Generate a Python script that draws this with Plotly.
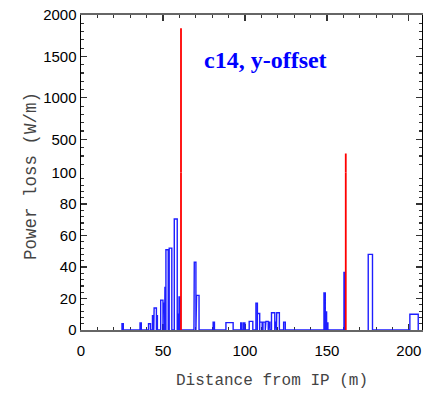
import plotly.graph_objects as go

# ---- data ----
# blue power-loss bins: start (m), end (m), power (W/m)
bin_start = [25.0, 36.0, 41.2, 43.6, 44.6, 46.0, 48.6, 50.2, 51.2, 51.8, 53.8, 56.9,
             59.2, 59.8, 68.9, 69.1, 70.5, 80.6, 88.4, 97.4, 99.2, 102.6, 106.7, 107.6,
             109.0, 111.0, 112.8, 114.6, 116.2, 118.6, 119.4, 123.6, 148.2, 149.0, 149.8,
             160.4]
bin_end = [25.8, 36.8, 42.4, 44.4, 46.0, 46.6, 50.0, 51.0, 51.8, 53.2, 55.4, 58.7,
           59.8, 60.4, 69.3, 70.1, 72.0, 81.4, 92.8, 98.2, 100.0, 104.8, 107.6, 109.0,
           110.5, 112.4, 114.2, 115.2, 118.2, 119.2, 121.0, 124.6, 149.0, 149.8, 150.6,
           161.2]
bin_power = [4, 4.5, 4, 9, 14, 9, 19, 17, 27, 51, 52, 70.5,
             10, 21, 27, 43, 22, 5, 4.7, 4.5, 4.5, 5.5, 17, 10.5,
             5, 5, 5.5, 5, 11, 5, 11, 5, 23.5, 11.5, 4.5,
             36.5]
# second group of bins
bin2_start = [175.2, 200.6]
bin2_end = [177.8, 205.7]
bin2_power = [48, 10]

# red spikes
red_x = [61.0, 161.5]
red_peak = [1840, 330]

x_ticks = [0, 50, 100, 150, 200]
y_low_ticks = [0, 20, 40, 60, 80, 100]
y_high_ticks = [500, 1000, 1500, 2000]


def outline(starts, ends, vals):
    xs, ys = [], []
    for s, e, v in zip(starts, ends, vals):
        xs += [s, s, e, e]
        ys += [0, v, v, 0]
    return xs, ys


bx1, by1 = outline(bin_start, bin_end, bin_power)
bx2, by2 = outline(bin2_start, bin2_end, bin2_power)
blue_x = bx1 + [None] + bx2
blue_y = by1 + [None] + by2

red_xs, red_ys = [], []
for xv, pv in zip(red_x, red_peak):
    red_xs += [xv, xv, None]
    red_ys += [0, pv, None]

fig = go.Figure()
blue = "rgb(30,30,255)"
fig.add_trace(go.Scatter(x=blue_x, y=blue_y, mode="lines",
                         line=dict(color=blue, width=1.4), xaxis="x", yaxis="y",
                         showlegend=False, hoverinfo="skip"))
for xa, ya in (("x", "y"), ("x2", "y2")):
    fig.add_trace(go.Scatter(x=red_xs, y=red_ys, mode="lines",
                             line=dict(color="red", width=1.8), xaxis=xa, yaxis=ya,
                             showlegend=False, hoverinfo="skip"))

tickfont = dict(family="Liberation Sans", size=15, color="black")
common_x = dict(range=[0, 208], showgrid=False, zeroline=False, showline=True,
                linecolor="#666", linewidth=2, ticks="inside", ticklen=6,
                tickcolor="#333", tickwidth=1.2, tickvals=x_ticks,
                minor=dict(dtick=10, tick0=0, ticks="inside", ticklen=3,
                           tickcolor="#333"),
                layer="below traces", automargin=False)
common_y = dict(showgrid=False, zeroline=False, showline=True, linecolor="black",
                linewidth=1.5, ticks="inside", ticklen=6, tickcolor="#333",
                tickwidth=1.2, mirror="ticks", tickfont=tickfont, automargin=False)

fig.update_layout(
    width=423, height=394,
    margin=dict(l=81, r=1, t=15, b=64),
    paper_bgcolor="white", plot_bgcolor="white",
    hovermode=False,
    xaxis=dict(**common_x, anchor="y", domain=[0, 1], tickfont=tickfont,
               ticklabelstandoff=6),
    xaxis2=dict(**common_x, anchor="y2", domain=[0, 1], matches="x", side="top",
                showticklabels=False),
    yaxis=dict(**common_y, domain=[0, 0.5], range=[0, 100], anchor="x",
               tickvals=y_low_ticks,
               minor=dict(dtick=4, tick0=0, ticks="inside", ticklen=3,
                          tickcolor="#333")),
    yaxis2=dict(**common_y, domain=[0.5, 1], range=[100, 2000], anchor="x2",
                tickvals=y_high_ticks,
                minor=dict(dtick=100, tick0=0, ticks="inside", ticklen=3,
                           tickcolor="#333")),
    annotations=[
        dict(text="<b>c14, y-offset</b>", xref="paper", yref="paper",
             x=0.54, y=0.857, xanchor="center", yanchor="middle", showarrow=False,
             font=dict(family="Liberation Serif", size=24, color="blue")),
        dict(text="Distance from IP (m)", xref="paper", yref="paper",
             x=0.56, y=-0.162, xanchor="center", yanchor="middle", showarrow=False,
             font=dict(family="Liberation Mono", size=16, color="#444")),
        dict(text="Power loss (W/m)", xref="paper", yref="paper",
             x=-0.1466, y=0.489, xanchor="center", yanchor="middle",
             showarrow=False, textangle=-90,
             font=dict(family="Liberation Mono", size=17.5, color="#444")),
    ],
)

fig.write_html(
    "out.html",
    config={"displayModeBar": False, "staticPlot": True},
    post_script="document.body.style.margin='0';document.body.style.overflow='hidden';",
)
